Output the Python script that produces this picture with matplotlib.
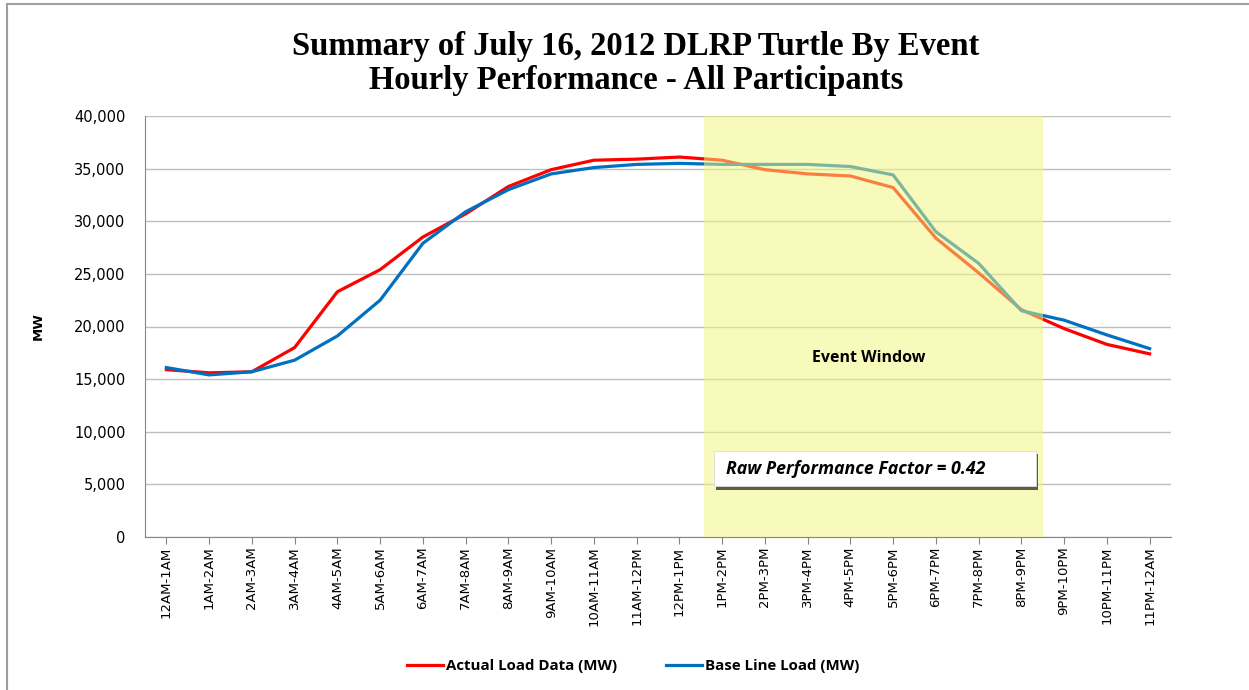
"""Hourly load vs. baseline for the July 16, 2012 DLRP event."""
import matplotlib
matplotlib.use("Agg")
import matplotlib.pyplot as plt
from matplotlib.lines import Line2D
from matplotlib.patches import Rectangle
from matplotlib.ticker import FuncFormatter

HOURS = ["12AM-1AM", "1AM-2AM", "2AM-3AM", "3AM-4AM", "4AM-5AM", "5AM-6AM",
         "6AM-7AM", "7AM-8AM", "8AM-9AM", "9AM-10AM", "10AM-11AM", "11AM-12PM",
         "12PM-1PM", "1PM-2PM", "2PM-3PM", "3PM-4PM", "4PM-5PM", "5PM-6PM",
         "6PM-7PM", "7PM-8PM", "8PM-9PM", "9PM-10PM", "10PM-11PM", "11PM-12AM"]
ACTUAL = [15900, 15600, 15700, 18000, 23300, 25400, 28500, 30700, 33300, 34900,
          35800, 35900, 36100, 35800, 34900, 34500, 34300, 33200, 28400, 25100,
          21600, 19800, 18300, 17400]
BASELINE = [16100, 15400, 15700, 16800, 19100, 22500, 27900, 30900, 33000, 34500,
            35100, 35400, 35500, 35400, 35400, 35400, 35200, 34400, 29000, 26000,
            21500, 20600, 19200, 17900]
EVENT_START, EVENT_END = "1PM-2PM", "8PM-9PM"
RAW_PF = 0.42

fig = plt.figure(figsize=(12.49, 6.90), dpi=100)
ax = fig.add_axes([145 / 1249, 1 - 537 / 690, (1171 - 145) / 1249, (537 - 116) / 690])

x = range(len(HOURS))
ax.plot(x, ACTUAL, color="#FF0000", lw=2.3, label="Actual Load Data (MW)", zorder=2)
ax.plot(x, BASELINE, color="#0070C0", lw=2.3, label="Base Line Load (MW)", zorder=2)

# translucent event window laid over the lines
i0, i1 = HOURS.index(EVENT_START), HOURS.index(EVENT_END)
ax.axvspan(i0 - 0.42, i1 + 0.5, color="#F0F77E", alpha=0.52, lw=0, zorder=3)
ax.text(16.43, 17000, "Event Window", ha="center", va="center",
        fontsize=11.5, fontweight="bold", family="Open Sans", zorder=5)

# performance factor call-out with drop shadow
ax.add_patch(Rectangle((i0 - 0.15, 4500), 7.55, 3400, facecolor="#1a1a1a",
                       alpha=0.7, lw=0, zorder=4))
ax.add_patch(Rectangle((i0 - 0.2, 4800), 7.55, 3400, facecolor="white",
                       edgecolor="#DDDDDD", lw=0.6, zorder=5))
ax.text(i0 + 0.1, 6500, f"Raw Performance Factor = {RAW_PF:.2f}", ha="left",
        va="center", fontsize=12.8, fontweight="bold", style="italic",
        family="Open Sans", zorder=6)

ax.set_xlim(-0.5, len(HOURS) - 0.5)
ax.set_ylim(0, 40000)
ax.set_yticks(range(0, 40001, 5000))
ax.yaxis.set_major_formatter(FuncFormatter(lambda v, _: f"{int(v):,}"))
ax.set_xticks(list(x))
ax.set_xticklabels(HOURS, rotation=90, fontsize=9.5, family="DejaVu Sans")
ax.tick_params(axis="y", length=0, labelsize=10.5, pad=14)
ax.tick_params(axis="x", length=5, color="#868686", pad=2)
ax.grid(axis="y", color="#BFBFBF", lw=1)
ax.set_axisbelow(True)
for side in ("top", "right"):
    ax.spines[side].set_visible(False)
for side in ("left", "bottom"):
    ax.spines[side].set_color("#868686")
ax.set_ylabel("MW", fontsize=9.5, fontweight="bold", labelpad=21)

fig.text(0.509, 0.933, "Summary of July 16, 2012 DLRP Turtle By Event",
         ha="center", va="center", fontsize=23.5, fontweight="bold",
         family="Liberation Serif")
fig.text(0.509, 0.884, "Hourly Performance - All Participants",
         ha="center", va="center", fontsize=23.5, fontweight="bold",
         family="Liberation Serif")

fig.legend(loc="center", bbox_to_anchor=(0.507, 1 - 666 / 690), ncol=2,
           frameon=False, handlelength=2.4, columnspacing=3.2,
           handletextpad=0.2, prop={"family": "Open Sans", "weight": "bold",
                                    "size": 10.8})

# outer chart-area frame (top and left edges)
fig.add_artist(Line2D([7 / 1249, 1.05], [1 - 4 / 690] * 2, transform=fig.transFigure,
                      color="#A0A0A0", lw=1.5))
fig.add_artist(Line2D([7 / 1249] * 2, [-0.05, 1 - 4 / 690], transform=fig.transFigure,
                      color="#A0A0A0", lw=1.5))

fig.savefig("out.png", dpi=100)
